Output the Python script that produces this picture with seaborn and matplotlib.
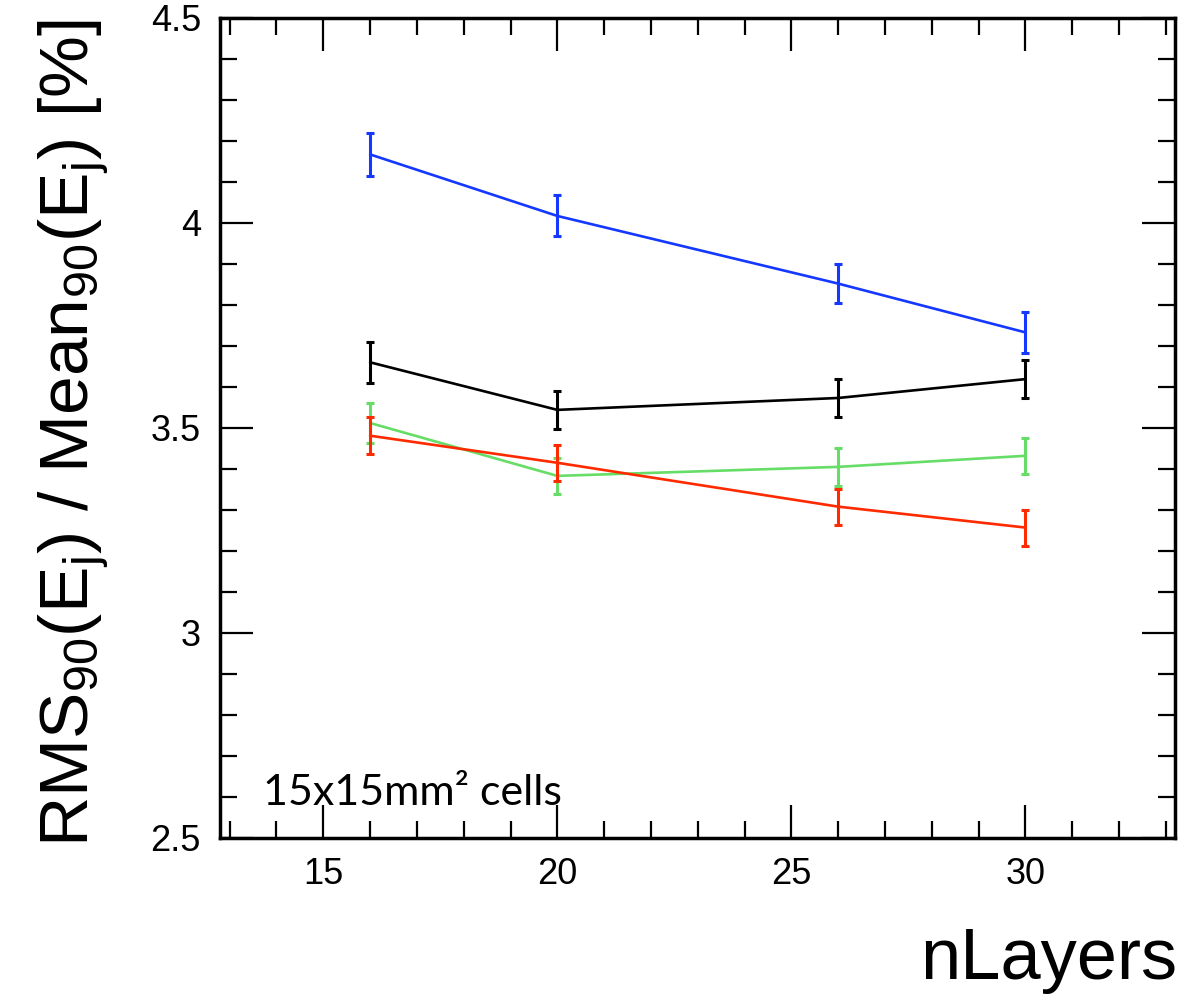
import numpy as np
import pandas as pd
import matplotlib
matplotlib.use("Agg")
import matplotlib.pyplot as plt
from matplotlib.ticker import MultipleLocator
import seaborn as sns

# ==========================
# DATA
# ==========================
n_layers = [16, 20, 26, 30]

blue_val = [4.167, 4.017, 3.852, 3.733]
blue_err = [0.053, 0.050, 0.048, 0.050]

black_val = [3.660, 3.544, 3.573, 3.619]
black_err = [0.050, 0.046, 0.046, 0.046]

green_val = [3.512, 3.383, 3.405, 3.432]
green_err = [0.048, 0.044, 0.046, 0.044]

red_val = [3.481, 3.415, 3.308, 3.257]
red_err = [0.045, 0.044, 0.044, 0.044]

series_names = ["blue", "black", "green", "red"]
colors = {"blue": "#1438ff", "black": "#000000", "green": "#66dd66", "red": "#ff2a00"}

values = {"blue": blue_val, "black": black_val, "green": green_val, "red": red_val}
errors = {"blue": blue_err, "black": black_err, "green": green_err, "red": red_err}

rows = []
for name in series_names:
    for x, v, e in zip(n_layers, values[name], errors[name]):
        rows.append({"nLayers": x, "res": v, "err": e, "series": name})
df = pd.DataFrame(rows)

# ==========================
# PLOT
# ==========================
sns.set_style("white")
plt.rcParams["font.family"] = ["Liberation Sans", "DejaVu Sans"]
plt.rcParams["mathtext.fontset"] = "custom"
plt.rcParams["mathtext.rm"] = "Liberation Sans"
plt.rcParams["mathtext.it"] = "Liberation Sans"

fig = plt.figure(figsize=(12.04, 9.94), dpi=100)
ax = fig.add_axes([0.183, 0.157, 0.793, 0.825])

sns.lineplot(data=df, x="nLayers", y="res", hue="series", palette=colors,
             hue_order=series_names, linewidth=1.9, legend=False, ax=ax,
             errorbar=None, sort=False)

for name in series_names:
    sub = df[df["series"] == name]
    ax.errorbar(sub["nLayers"], sub["res"], yerr=sub["err"], fmt="none",
                ecolor=colors[name], elinewidth=2.2, capsize=2.6, capthick=2.2)

ax.set_xlim(12.8, 33.2)
ax.set_ylim(2.5, 4.5)

ax.xaxis.set_major_locator(MultipleLocator(5))
ax.xaxis.set_minor_locator(MultipleLocator(1))
ax.yaxis.set_major_locator(MultipleLocator(0.5))
ax.yaxis.set_minor_locator(MultipleLocator(0.1))
ax.set_xticks([15, 20, 25, 30])
ax.set_xticklabels(["15", "20", "25", "30"])
ax.set_yticks([2.5, 3, 3.5, 4, 4.5])
ax.set_yticklabels(["2.5", "3", "3.5", "4", "4.5"])

ax.tick_params(which="both", direction="in", top=True, right=True,
               bottom=True, left=True, labelsize=26, width=1.6, pad=14,
               color="black", labelcolor="black")
ax.tick_params(which="major", length=24)
ax.tick_params(which="minor", length=12)

for spine in ax.spines.values():
    spine.set_linewidth(2.5)
    spine.set_color("black")

# axis titles, ROOT style: pushed to the far ends of the axes
ax.set_xlabel("")
fig.text(1177 / 1204, 1 - 979 / 994, "nLayers", fontsize=52, color="black",
         ha="right", va="baseline")
ax.set_ylabel(r"RMS$_{90}$(E$_{j}$) / Mean$_{90}$(E$_{j}$) [%]", fontsize=50,
              color="black")
ax.yaxis.set_label_coords(-0.115, 0.998)
ax.yaxis.label.set_horizontalalignment("right")

ax.text(0.045, 0.04, "15x15mm² cells", transform=ax.transAxes,
        fontsize=31, family=["Lato", "DejaVu Sans"], color="black")

plt.savefig("out.png", dpi=100)
plt.close()
